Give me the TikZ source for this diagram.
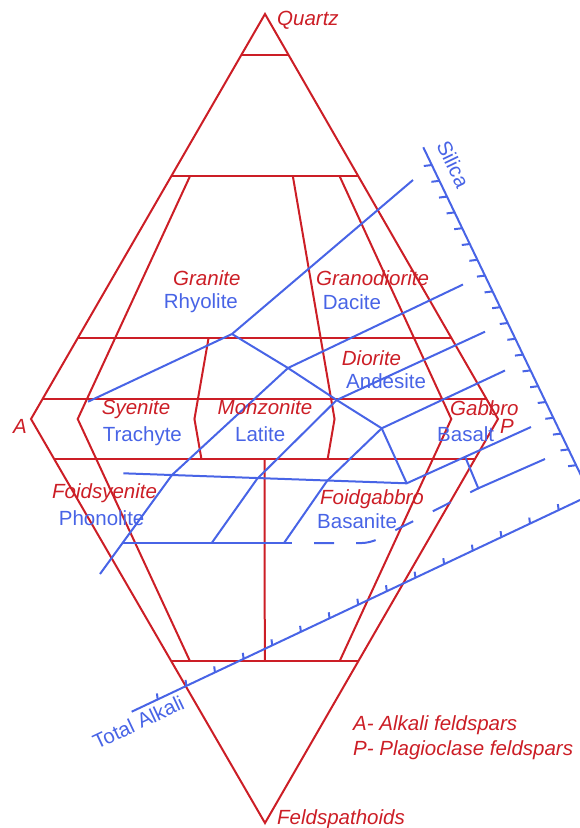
\documentclass[tikz,border=0pt]{standalone}
\usepackage{fontspec}
\setmainfont{Liberation Sans}
\usetikzlibrary{calc}
\definecolor{qred}{RGB}{204,30,38}
\definecolor{tblue}{RGB}{72,100,230}
\begin{document}
\begin{tikzpicture}[x=1pt,y=-1pt,
  redl/.style={draw=qred, line width=2pt, line join=miter},
  bluel/.style={draw=tblue, line width=2pt},
  rlab/.style={text=qred, font=\fontsize{20.5}{24}\selectfont\itshape, inner sep=0pt, anchor=base west},
  blab/.style={text=tblue, font=\fontsize{20.5}{24}\selectfont, inner sep=0pt, anchor=base west}]
\path[use as bounding box] (0,0) rectangle (580,828);
\begin{scope}
\clip (0,0) rectangle (580,828);
% ---------------- QAPF (red) ----------------
\coordinate (Q) at (265,14);
\coordinate (A) at (31,419);
\coordinate (P) at (498,419);
\coordinate (F) at (265,823);
\coordinate (r10) at ($(A)!0.10!(P)$);
\coordinate (r35) at ($(A)!0.35!(P)$);
\coordinate (r50) at ($(A)!0.50!(P)$);
\coordinate (r65) at ($(A)!0.65!(P)$);
\coordinate (r90) at ($(A)!0.90!(P)$);
\draw[redl] (Q) -- (A) -- (F) -- (P) -- cycle;
\draw[redl] ($(Q)!0.1!(A)$) -- ($(Q)!0.1!(P)$);
\draw[redl] ($(Q)!0.4!(A)$) -- ($(Q)!0.4!(P)$);
\draw[redl] ($(Q)!0.8!(A)$) -- ($(Q)!0.8!(P)$);
\draw[redl] ($(Q)!0.95!(A)$) -- ($(Q)!0.95!(P)$);
\draw[redl] ($(F)!0.9!(A)$) -- ($(F)!0.9!(P)$);
\draw[redl] ($(F)!0.4!(A)$) -- ($(F)!0.4!(P)$);
\draw[redl] ($(Q)!0.4!(r10)$) -- (r10) -- ($(r10)!0.6!(F)$);
\draw[redl] ($(Q)!0.4!(r90)$) -- (r90) -- ($(r90)!0.6!(F)$);
\draw[redl] ($(Q)!0.8!(r35)$) -- (r35) -- ($(r35)!0.1!(F)$);
\draw[redl] ($(Q)!0.4!(r65)$) -- (r65) -- ($(r65)!0.1!(F)$);
\draw[redl] ($(r50)!0.1!(F)$) -- ($(r50)!0.6!(F)$);
% ---------------- TAS (blue) ----------------
\coordinate (S0) at (423.3,147.3);
\coordinate (S1) at (580,473.3);
\coordinate (K0) at (131.7,711.7);
\coordinate (K1) at (580,500);
\draw[bluel] (S0) -- ($(S0)!1.2!(S1)$);
\draw[bluel] (K0) -- ($(K0)!1.2!(K1)$);
\foreach \k in {0,...,19}{
  \pgfmathsetmacro\mytpos{(165+15.8*\k-147.3)/326}
  \draw[bluel] ($(S0)!\mytpos!(S1)$) -- ++(-8,1);
}
\foreach \k in {0,...,14}{
  \pgfmathsetmacro\mytpos{(157.7+28.64*\k-131.7)/448.3}
  \draw[bluel] ($(K0)!\mytpos!(K1)$) -- ++(-0.8,-6);
}
\coordinate (P77) at (413,180);
\coordinate (V69) at (232,334);
\coordinate (P69t) at (88,401.7);
\coordinate (P63b) at (463,284.5);
\coordinate (V63) at (288,368);
\coordinate (P57b) at (485,331.7);
\coordinate (V57) at (336.7,400);
\coordinate (P52b) at (505,370.5);
\coordinate (V52) at (381.7,428.3);
\coordinate (P45b) at (531,427);
\coordinate (V45) at (406.7,483.3);
\coordinate (H1L) at (123.3,473.3);
\coordinate (B1) at (172,475);
\coordinate (LL) at (100,574);
\coordinate (B2) at (257,479);
\coordinate (H2b) at (211.7,543);
\coordinate (B3) at (327,481);
\coordinate (H2c) at (284,543);
\coordinate (H2a) at (122,543);
\coordinate (H2d) at (292,543);
\coordinate (H2e) at (370,543);
\coordinate (PB) at (465,456.5);
\coordinate (PC) at (478.3,488.3);
\coordinate (P41b) at (545,459);
\draw[bluel] (P77) -- (V69) -- (P69t);
\draw[bluel] (V69) -- (V63) -- (V57) -- (V52);
\draw[bluel] (P63b) -- (V63) -- (B1) -- (LL);
\draw[bluel] (P57b) -- (V57) -- (B2) -- (H2b);
\draw[bluel] (P52b) -- (V52) -- (B3) -- (H2c);
\draw[bluel] (V52) -- (V45);
\draw[bluel] (P45b) -- (V45) -- (H1L);
\draw[bluel] (H2a) -- (H2d);
\draw[bluel, dash pattern=on 20pt off 22pt, dash phase=20pt, rounded corners=8pt] (H2d) -- (H2e) -- (PC);
\draw[bluel] (PB) -- (PC) -- (P41b);
\end{scope}
% ---------------- labels ----------------
\node[rlab] (lq) at (277,25) {Quartz};
\node[rlab] (lgr) at (173,285) {Granite};
\node[blab] (lrh) at (163.6,308) {Rhyolite};
\node[rlab] (lgd) at (316,285) {Granodiorite};
\node[blab] (lda) at (322.7,309) {Dacite};
\node[rlab] (ldi) at (341.7,365) {Diorite};
\node[blab] (lan) at (346,388) {Andesite};
\node[rlab] (lsy) at (101.7,414) {Syenite};
\node[rlab] (lmo) at (217.5,414) {Monzonite};
\node[rlab] (lga) at (450,415) {Gabbro};
\node[blab] (ltr) at (102.7,441) {Trachyte};
\node[blab] (lla) at (235,441) {Latite};
\node[blab] (lba) at (437,441) {Basalt};
\node[rlab] (lA) at (13,433) {A};
\node[rlab] (lP) at (500,433) {P};
\node[rlab] (lfs) at (52,498) {Foidsyenite};
\node[blab] (lph) at (58.7,525) {Phonolite};
\node[rlab] (lfg) at (320,504) {Foidgabbro};
\node[blab] (lbs) at (317,528) {Basanite};
\node[rlab] (lfe) at (277,824) {Feldspathoids};
\node[rlab] (lk1) at (353,730.7) {A- Alkali feldspars};
\node[rlab] (lk2) at (353,755.4) {P- Plagioclase feldspars};
\node[blab, rotate=25.3] (lta) at (97,750) {Total Alkali};
\node[blab, rotate=-64.3] (lsi) at (436,145) {Silica};
\end{tikzpicture}
\end{document}
